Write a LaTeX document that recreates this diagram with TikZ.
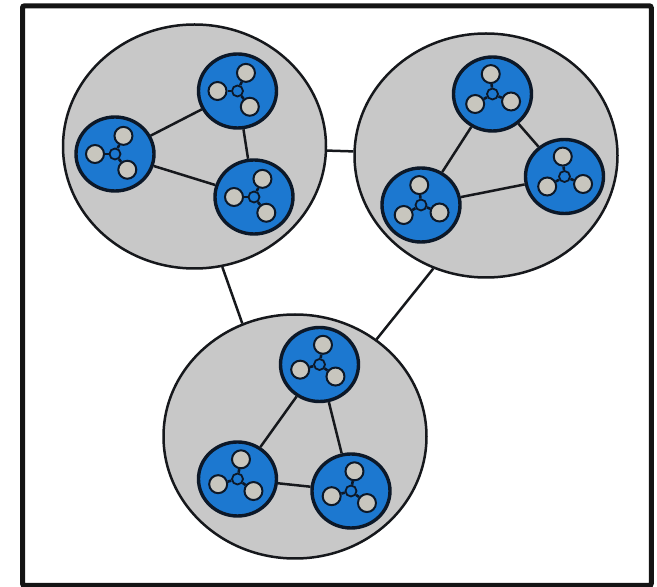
\documentclass[tikz,border=0pt]{standalone}
\usetikzlibrary{shapes.geometric}
\definecolor{cellblue}{RGB}{28,120,208}
\definecolor{clustergrey}{RGB}{200,200,200}
\definecolor{dotgrey}{RGB}{200,198,190}
\definecolor{edgedark}{RGB}{22,24,28}
\definecolor{celledge}{RGB}{12,24,40}

\begin{document}
\begin{tikzpicture}[x=1pt,y=1pt]
		\tikzstyle{Cluster}=[ellipse,draw=edgedark,fill=clustergrey,line width=2.5pt,inner sep=0pt,minimum width=263pt,minimum height=244pt]
		\tikzstyle{Cell}=[ellipse,draw=celledge,fill=cellblue,line width=3.4pt,inner sep=0pt,minimum width=78pt,minimum height=74pt]
		\tikzstyle{Hub}=[circle,draw=celledge,fill=cellblue,line width=1.8pt,inner sep=0pt,minimum size=11pt]
		\tikzstyle{Dot}=[circle,draw=celledge,fill=dotgrey,line width=2pt,inner sep=0pt,minimum size=18pt]
		\tikzstyle{Link}=[draw=edgedark,line width=2.5pt]
		\tikzstyle{Wire}=[draw=celledge,line width=2.6pt]
		\useasboundingbox (0,0) rectangle (657,587);
		\draw[line width=5pt,rounded corners=2pt,draw=black!92] (22.5,1.5) rectangle (651.3,581.2);

		% clusters
		\node[Cluster] (G1) at (194.5,440.5) {};
		\node[Cluster] (G2) at (486,431.5) {};
		\node[Cluster] (G3) at (295,150.5) {};
		\draw[Link] (G1) -- (G2);
		\draw[Link] (G1.-77) -- (G3.115);
		\draw[Link] (G2.-115) -- (G3.50);

		% cells with their three members
		\foreach \name/\x/\y/\rot in {A1/237.5/496/65, A2/115/433/65, A3/254/390/65,%
			B1/492.5/493/95, B2/421/382/95, B3/564.5/410.5/95,%
			C1/319.5/222.5/80, C2/237.5/108/80, C3/351/96/80}{
			\node[Cell] (\name) at (\x,\y) {};
			\node[Hub] (\name-h) at (\name) {};
			\foreach \t [count=\i] in {0,115,243}{
				\node[Dot] (\name-\i) at ([shift={(\rot+\t:20)}]\name) {};
				\draw[Wire] (\name-h) -- (\name-\i);
			}
		}

		\draw[Link] (A1) -- (A2) (A2) -- (A3) (A3) -- (A1);
		\draw[Link] (B1) -- (B2) (B2) -- (B3) (B3) -- (B1);
		\draw[Link] (C1) -- (C2) (C2) -- (C3) (C3) -- (C1);
	\end{tikzpicture}
\end{document}
